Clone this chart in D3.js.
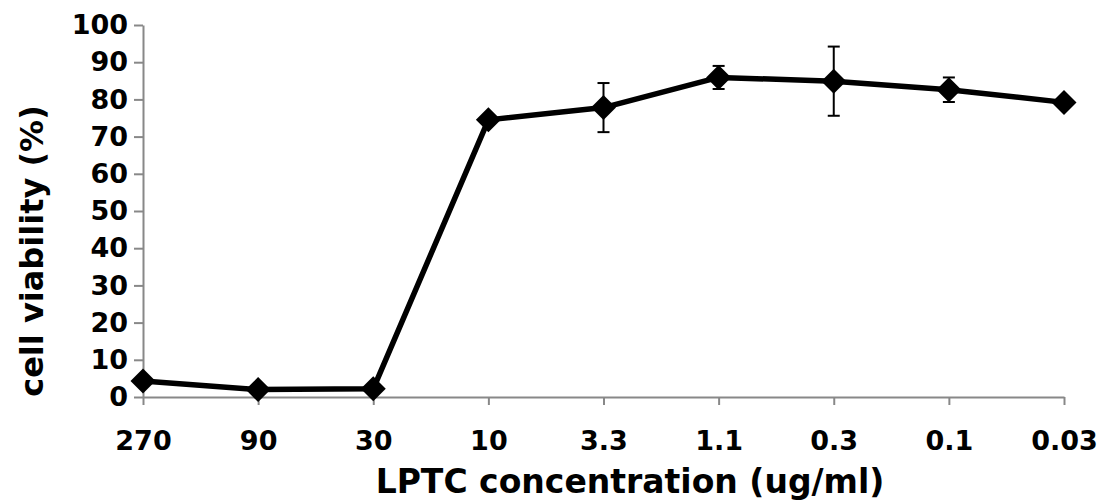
<!DOCTYPE html>
<html>
<head>
<meta charset="utf-8">
<script src="https://cdnjs.cloudflare.com/ajax/libs/d3/7.8.5/d3.min.js"></script>
<style>
  body { margin: 0; background: #fff; }
  text { font-family: "DejaVu Sans", Verdana, sans-serif; font-weight: bold; fill: #000; }
</style>
</head>
<body>
<div id="chart"></div>
<script>
// data
var concentrations = ["270", "90", "30", "10", "3.3", "1.1", "0.3", "0.1", "0.03"];
var viability = [4.3, 2.0, 2.2, 74.5, 77.8, 85.9, 84.9, 82.6, 79.2];
var errors = [0, 0, 0, 0, 6.6, 3.1, 9.3, 3.3, 0];
var yTicks = [0, 10, 20, 30, 40, 50, 60, 70, 80, 90, 100];

var width = 1099, height = 500;
var margin = {top: 25, right: 35, bottom: 103, left: 143};

var svg = d3.select("#chart").append("svg")
    .attr("width", width)
    .attr("height", height);

var x = d3.scalePoint()
    .domain(concentrations)
    .range([margin.left, width - margin.right]);

var y = d3.scaleLinear()
    .domain([0, 100])
    .range([height - margin.bottom, margin.top]);

// y axis
var yAxis = svg.append("g")
    .attr("transform", "translate(" + margin.left + ",0)")
    .call(d3.axisLeft(y).tickValues(yTicks).tickSize(9).tickSizeOuter(0).tickPadding(6));
yAxis.selectAll("text").style("font-size", "27px");

// x axis
var xAxis = svg.append("g")
    .attr("transform", "translate(0," + y(0) + ")")
    .call(d3.axisBottom(x).tickSize(8).tickSizeOuter(0).tickPadding(26));
xAxis.selectAll("text").style("font-size", "27px");

svg.selectAll(".domain, .tick line")
    .attr("stroke", "#888")
    .attr("stroke-width", 2);

// titles
svg.append("text")
    .attr("x", 630)
    .attr("y", 493)
    .attr("text-anchor", "middle")
    .style("font-size", "33px")
    .text("LPTC concentration (ug/ml)");

svg.append("text")
    .attr("transform", "translate(43,251) rotate(-90)")
    .attr("text-anchor", "middle")
    .style("font-size", "32px")
    .text("cell viability (%)");

var pts = concentrations.map(function(c, i) {
  return {c: c, v: viability[i], e: errors[i]};
});

// error bars
var eb = svg.append("g").selectAll("g")
  .data(pts.filter(function(d) { return d.e > 0; }))
  .enter().append("g")
    .attr("stroke", "#000")
    .attr("stroke-width", 2);
eb.append("line")
    .attr("x1", function(d) { return x(d.c); })
    .attr("x2", function(d) { return x(d.c); })
    .attr("y1", function(d) { return y(d.v - d.e); })
    .attr("y2", function(d) { return y(d.v + d.e); });
eb.append("line")
    .attr("x1", function(d) { return x(d.c) - 6; })
    .attr("x2", function(d) { return x(d.c) + 6; })
    .attr("y1", function(d) { return y(d.v + d.e); })
    .attr("y2", function(d) { return y(d.v + d.e); });
eb.append("line")
    .attr("x1", function(d) { return x(d.c) - 6; })
    .attr("x2", function(d) { return x(d.c) + 6; })
    .attr("y1", function(d) { return y(d.v - d.e); })
    .attr("y2", function(d) { return y(d.v - d.e); });

// line
var line = d3.line()
    .x(function(d) { return x(d.c); })
    .y(function(d) { return y(d.v); });

svg.append("path")
    .datum(pts)
    .attr("fill", "none")
    .attr("stroke", "#000")
    .attr("stroke-width", 5.5)
    .attr("stroke-linejoin", "round")
    .attr("d", line);

// diamond markers
svg.append("g").selectAll("path")
  .data(pts)
  .enter().append("path")
    .attr("transform", function(d) { return "translate(" + x(d.c) + "," + y(d.v) + ")"; })
    .attr("d", "M0,-12.5L12.5,0L0,12.5L-12.5,0Z")
    .attr("fill", "#000");
</script>
</body>
</html>
